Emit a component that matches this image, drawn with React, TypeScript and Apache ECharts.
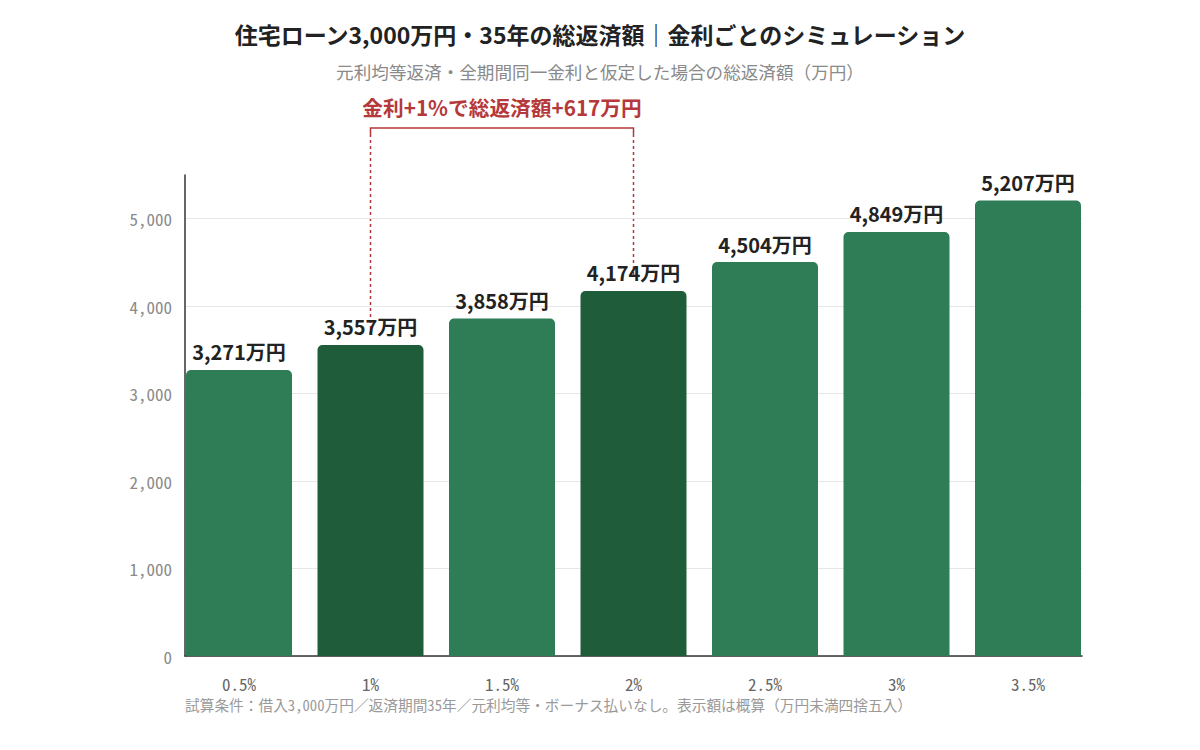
import React, { useEffect, useRef } from "react";
import * as echarts from "echarts";

const categories = ["0.5%", "1%", "1.5%", "2%", "2.5%", "3%", "3.5%"];
const totals = [3271, 3557, 3858, 4174, 4504, 4849, 5207];
const highlighted = ["1%", "2%"];
const yTicks = [0, 1000, 2000, 3000, 4000, 5000];
const annotationText = "金利+1%で総返済額+617万円";
const titleText = "住宅ローン3,000万円・35年の総返済額｜金利ごとのシミュレーション";
const subtitleText = "元利均等返済・全期間同一金利と仮定した場合の総返済額（万円）";
const footerText = "試算条件：借入3,000万円／返済期間35年／元利均等・ボーナス払いなし。表示額は概算（万円未満四捨五入）";

const LIGHT = "#2e7d56";
const DARK = "#1f5c3a";
const RED = "#b5393b";
const MONO = "'Noto Sans Mono CJK JP', 'DejaVu Sans Mono', monospace";
const SANS = "'Noto Sans CJK JP', 'Noto Sans', sans-serif";
const Y_MAX = 5500;

export default function App() {
  const ref = useRef<HTMLDivElement>(null);
  useEffect(() => {
    document.body.style.margin = "0";
    const chart = echarts.init(ref.current!, undefined, { renderer: "svg" });
    const footer = {
      type: "text",
      left: 185,
      top: 697,
      style: { text: footerText, fontFamily: MONO, fontSize: 14.7, lineHeight: 15, fill: "#9a9a9a" },
    };
    chart.setOption({
      animation: false,
      backgroundColor: "#ffffff",
      title: [
        {
          text: titleText,
          left: "center",
          top: 17,
          textStyle: { fontFamily: SANS, fontSize: 23, fontWeight: "bold", color: "#222" },
        },
        {
          text: subtitleText,
          left: "center",
          top: 58,
          textStyle: { fontFamily: SANS, fontSize: 17.6, fontWeight: "normal", color: "#8a8a8a" },
        },
      ],
      grid: [
        { left: 185, right: 118, top: 175, bottom: 94 },
        { left: 173.25, right: 106.25, top: 175, bottom: 94 },
      ],
      xAxis: [
        {
          type: "value",
          gridIndex: 0,
          min: 0,
          max: 1,
          axisLine: { show: true, lineStyle: { color: "#333", width: 1.5 } },
          axisTick: { show: false },
          axisLabel: { show: false },
          splitLine: { show: false },
        },
        {
          type: "category",
          gridIndex: 1,
          data: categories,
          axisLine: { show: false },
          axisTick: { show: false },
          axisLabel: { fontFamily: MONO, fontSize: 17, lineHeight: 17, color: "#666", margin: 19 },
        },
      ],
      yAxis: [
        {
          type: "value",
          gridIndex: 0,
          min: yTicks[0],
          max: Y_MAX,
          interval: yTicks[1] - yTicks[0],
          axisLine: { show: true, lineStyle: { color: "#333", width: 1.5 } },
          axisTick: { show: false },
          axisLabel: {
            fontFamily: MONO,
            fontSize: 17,
            color: "#8a8a8a",
            margin: 13,
            showMaxLabel: false,
            formatter: (v: number) => v.toLocaleString("en-US"),
          },
          splitLine: {
            lineStyle: {
              color: ["#e6e6e6", "#e6e6e6", "#e6e6e6", "#e6e6e6", "#e6e6e6", "#e6e6e6", "rgba(0,0,0,0)"],
              width: 1,
            },
          },
        },
        {
          type: "value",
          gridIndex: 1,
          min: yTicks[0],
          max: Y_MAX,
          show: false,
          splitLine: { show: false },
        },
      ],
      series: [
        {
          type: "bar",
          xAxisIndex: 1,
          yAxisIndex: 1,
          barWidth: 106,
          data: totals.map((v, i) => ({
            value: v,
            itemStyle: { color: highlighted.includes(categories[i]) ? DARK : LIGHT },
          })),
          itemStyle: { borderRadius: [5, 5, 0, 0] },
          label: {
            show: true,
            position: "top",
            distance: 8,
            fontFamily: SANS,
            fontSize: 20,
            fontWeight: "bold",
            color: "#222",
            formatter: (p: any) => p.value.toLocaleString("en-US") + "万円",
          },
        },
      ],
      graphic: [footer],
    });

    const i1 = categories.indexOf(highlighted[0]);
    const i2 = categories.indexOf(highlighted[1]);
    const p1 = chart.convertToPixel({ seriesIndex: 0 }, [i1, totals[i1]]) as number[];
    const p2 = chart.convertToPixel({ seriesIndex: 0 }, [i2, totals[i2]]) as number[];
    const yBracket = 128;
    chart.setOption({
      graphic: [
        footer,
        {
          type: "polyline",
          shape: { points: [[p1[0], yBracket + 6], [p1[0], yBracket], [p2[0], yBracket], [p2[0], yBracket + 6]] },
          style: { stroke: RED, lineWidth: 1.5, fill: "none" },
        },
        {
          type: "line",
          shape: { x1: p1[0], y1: yBracket + 6, x2: p1[0], y2: p1[1] - 11 },
          style: { stroke: RED, lineWidth: 1.5, lineDash: [3, 3] },
        },
        {
          type: "line",
          shape: { x1: p2[0], y1: yBracket + 6, x2: p2[0], y2: p2[1] - 14 },
          style: { stroke: RED, lineWidth: 1.5, lineDash: [3, 3] },
        },
        {
          type: "text",
          x: (p1[0] + p2[0]) / 2,
          y: 107,
          style: {
            text: annotationText,
            fontFamily: SANS,
            fontSize: 20.7,
            fontWeight: "bold",
            fill: RED,
            align: "center",
            verticalAlign: "middle",
          },
        },
      ],
    });
    return () => chart.dispose();
  }, []);
  return <div ref={ref} style={{ width: 1200, height: 750 }} />;
}
